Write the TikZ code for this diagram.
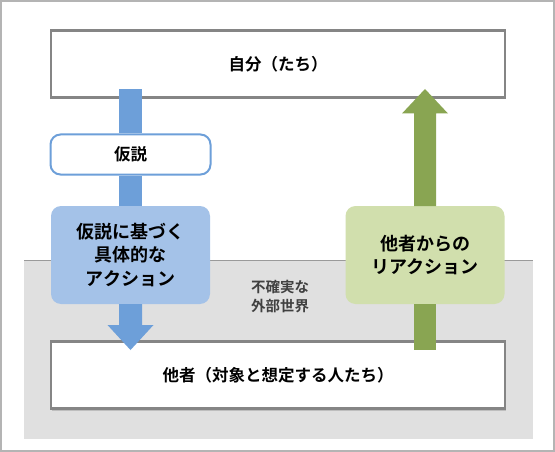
\documentclass[tikz,border=0pt]{standalone}
\usepackage{fontspec}
\setmainfont{Noto Sans CJK JP}[BoldFont={Noto Sans CJK JP Bold}]
\usetikzlibrary{shadows}
\definecolor{framegray}{HTML}{B4B4B4}
\definecolor{zonegray}{HTML}{E0E0E0}
\definecolor{zoneline}{HTML}{9A9A9A}
\definecolor{boxgray}{HTML}{858585}
\definecolor{arrowblue}{HTML}{6D9FD9}
\definecolor{boxblue}{HTML}{A4C2E8}
\definecolor{arrowgreen}{HTML}{89A552}
\definecolor{boxgreen}{HTML}{D1DFAD}
\definecolor{txtgray}{HTML}{404040}
\tikzset{
  x=1pt, y=-1pt,
  mainbox/.style={draw=boxgray, line width=2.8pt, fill=white, minimum width=454pt, minimum height=67pt, font=\fontsize{16.5}{20}\selectfont\bfseries, drop shadow={shadow xshift=1pt, shadow yshift=-2pt, opacity=0.35}},
  roundbox/.style={rounded corners=10pt, minimum width=159pt, minimum height=98pt, align=center, font=\fontsize{18}{23.5}\selectfont\bfseries},
  hypbox/.style={draw=arrowblue, line width=2pt, fill=white, rounded corners=10pt, minimum width=160pt, minimum height=40pt, font=\fontsize{16.5}{20}\selectfont\bfseries},
  zonetext/.style={text=txtgray, align=center, font=\fontsize{14.5}{19}\selectfont\bfseries},
}
\begin{document}
\begin{tikzpicture}
\useasboundingbox (0,0) rectangle (555,452);
\draw[framegray, line width=1.2pt, fill=white] (1,1) rectangle (554,451);
\fill[zonegray] (24,260) rectangle (533,439);
\draw[zoneline, line width=1pt] (24,260) -- (533,260);

\node[mainbox] (self) at (278,64) {自分（たち）};
\node[mainbox] (other) at (278,375) {他者（対象と想定する人たち）};

\node[hypbox] (hyp) at (130.5,154.5) {仮説};
\node[roundbox, fill=boxblue] (act) at (130.5,255) {仮説に基づく\\具体的な\\アクション};
\node[roundbox, fill=boxgreen] (react) at (425,255) {他者からの\\リアクション};
\node[zonetext] (world) at (280,297) {不確実な\\外部世界};

% blue arrow: self -> hyp -> act -> other
\fill[arrowblue] (119,89) rectangle (142,133.5);
\fill[arrowblue] (119,175.5) rectangle (142,206);
\fill[arrowblue] (119,304) -- (119,325) -- (107.5,325) -- (130.5,350) -- (153.5,325) -- (142,325) -- (142,304) -- cycle;
% green arrow: other -> react -> self
\fill[arrowgreen] (414,350) rectangle (436,304);
\fill[arrowgreen] (414,206) -- (414,113.5) -- (402,113.5) -- (425,89) -- (448,113.5) -- (436,113.5) -- (436,206) -- cycle;
\end{tikzpicture}
\end{document}
